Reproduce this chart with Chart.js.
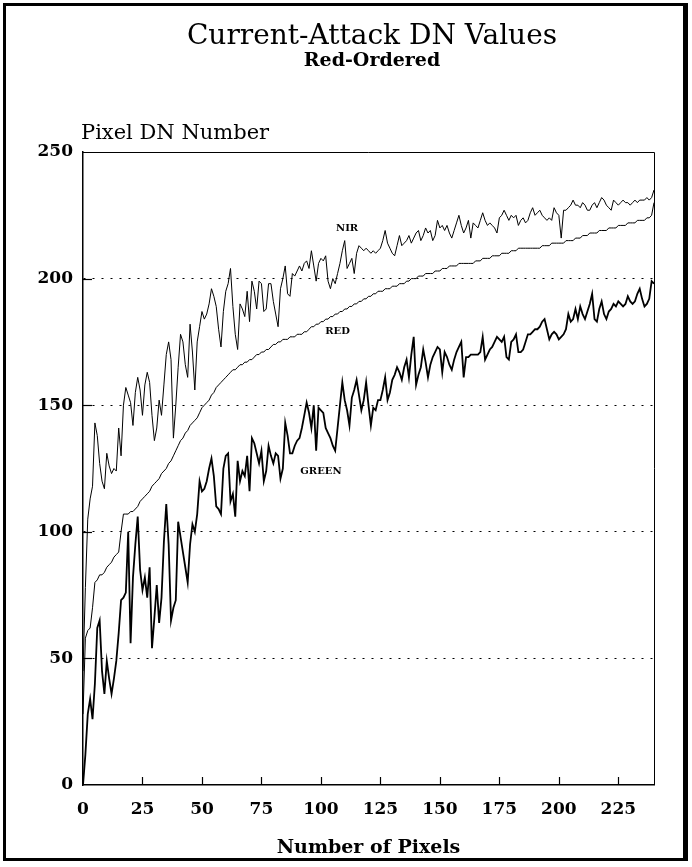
<!DOCTYPE html>
<html>
<head>
<meta charset="utf-8">
<script src="https://cdn.jsdelivr.net/npm/chart.js@4.4.1/dist/chart.umd.min.js"></script>
<style>
html,body{margin:0;padding:0;background:#fff;}
#wrap{position:relative;width:692px;height:867px;}
#frame{position:absolute;left:3px;top:3px;width:677px;height:852px;border:3px solid #000;border-right-width:5px;pointer-events:none;}
canvas{position:absolute;left:0;top:0;}
</style>
</head>
<body>
<div id="wrap"><canvas id="c" width="692" height="867"></canvas><div id="frame"></div></div>
<script>
// ---- data ----
const X_TICKS = [0,25,50,75,100,125,150,175,200,225];
const Y_TICKS = [0,50,100,150,200,250];
const SERIES_NAMES = ["NIR","RED","GREEN"];

const NIR = [45,78,105,113,118,143,138,127,120,117,131,126,123,125,124,141,130,150,157,154,
151,142,155,161,156,146,158,163,159,146,136,141,152,146,158,170,175,168,137,150,
165,178,175,166,161,182,171,156,175,181,187,184,186,190,196,193,189,180,173,187,
195,198,204,189,178,172,190,188,185,195,183,199,195,188,199,198,187,188,198,198,
191,186,181,196,200,205,194,193,202,201,203,205,203,206,207,204,211,205,199,206,
208,207,209,199,196,200,198,202,206,211,215,204,206,208,202,210,213,212,211,212,
211,210,211,210,211,212,215,219,214,212,210,209,213,217,213,214,215,217,214,216,
218,219,215,217,220,218,219,215,217,223,220,221,219,221,218,216,219,222,225,221,
218,220,223,216,222,221,220,223,226,223,221,222,221,220,218,224,225,227,225,223,
225,224,225,221,223,224,222,223,226,228,225,226,227,225,224,223,224,223,228,226,
225,216,227,227,228,229,231,229,229,228,230,229,227,227,229,230,228,230,232,231,
229,228,227,231,230,229,230,231,230,230,229,230,231,230,231,231,231,232,231,232,235];

const RED = [28,58,61,62,70,80,81,83,83,84,86,87,88,90,91,92,100,107,107,107,
108,108,109,110,112,113,114,115,116,118,119,120,121,123,124,125,127,128,130,132,
134,136,137,139,140,142,143,144,145,147,149,150,151,152,154,155,157,158,159,160,
161,162,163,164,164,165,166,166,167,167,168,168,169,170,170,171,171,172,172,173,
174,174,175,175,176,176,176,177,177,177,178,178,178,179,179,180,181,181,182,182,
183,183,184,184,185,185,186,186,187,187,188,188,189,189,190,190,191,191,192,192,
193,193,194,194,195,195,195,196,196,196,197,197,197,198,198,198,199,199,200,200,
200,201,201,201,202,202,202,202,203,203,203,204,204,204,205,205,205,205,206,206,
206,206,206,206,206,207,207,207,208,208,208,208,209,209,209,209,210,210,210,210,
211,211,211,212,212,212,212,212,212,212,212,212,212,213,213,213,213,214,214,214,
214,214,214,215,215,215,215,216,216,216,217,217,217,218,218,218,218,219,219,219,
219,220,220,220,220,221,221,221,221,222,222,222,222,223,223,223,223,224,224,225,230];

const GREEN = [0,12,28,34,26,40,62,65,45,36,49,42,36,42,49,60,73,74,76,100,
56,82,95,106,85,77,82,74,86,54,66,79,64,74,96,111,95,65,70,73,
104,98,92,86,80,95,103,100,107,120,116,117,120,125,129,122,110,109,107,125,
130,131,112,115,106,128,120,124,122,130,116,137,135,131,127,132,120,124,134,130,
127,131,130,121,125,143,138,131,131,134,136,137,141,146,151,147,141,150,132,149,
148,147,141,139,137,134,132,141,150,159,152,148,142,153,156,160,154,148,152,159,
150,142,149,148,152,152,156,161,152,155,160,162,165,163,160,165,168,161,170,177,
158,162,165,172,167,161,166,169,171,173,172,163,171,169,166,164,168,171,173,175,
161,169,169,170,170,170,170,171,177,168,170,172,173,175,177,176,175,177,169,168,
175,176,178,171,171,172,175,178,178,179,180,180,181,183,184,180,176,178,179,178,
176,177,178,180,186,183,184,188,184,189,186,184,187,190,194,184,183,188,191,186,
184,187,188,190,189,191,190,189,190,193,191,190,191,194,196,192,189,190,192,199,198];

// label anchors (data units) for the in-plot series names
const LABEL_X = [111, 107, 100];
const LABEL_Y = [220, 179, 124];

const X_MAX = 240;

const toPts = arr => arr.map((v, i) => ({x: i, y: v}));

const SERIF = "'DejaVu Serif', 'Liberation Serif', serif";

const decorPlugin = {
  id: 'decor',
  afterDraw(chart) {
    const {ctx, chartArea: a, scales} = chart;
    ctx.save();
    ctx.strokeStyle = '#000';
    ctx.lineWidth = 1;
    ctx.setLineDash([]);
    ctx.beginPath();
    ctx.moveTo(a.left, a.top + 0.5); ctx.lineTo(a.right + 0.5, a.top + 0.5);
    ctx.lineTo(a.right + 0.5, a.bottom);
    ctx.stroke();
    ctx.lineWidth = 1.2;
    X_TICKS.forEach(t => {
      if (t === 0) return;
      const px = Math.round(scales.x.getPixelForValue(t)) + 0.5;
      ctx.beginPath(); ctx.moveTo(px, a.bottom); ctx.lineTo(px, a.bottom - 8); ctx.stroke();
    });
    Y_TICKS.forEach(t => {
      if (t === 0 || t === 250) return;
      const py = Math.round(scales.y.getPixelForValue(t)) + 0.5;
      ctx.beginPath(); ctx.moveTo(a.left, py); ctx.lineTo(a.left + 9, py); ctx.stroke();
    });
    ctx.fillStyle = '#000';
    ctx.textAlign = 'center';
    ctx.textBaseline = 'middle';
    ctx.font = "28px " + SERIF;
    ctx.fillText('Current-Attack DN Values', 372, 37);
    ctx.font = "bold 19px " + SERIF;
    ctx.fillText('Red-Ordered', 372, 61);
    ctx.textAlign = 'left';
    ctx.font = "21px " + SERIF;
    ctx.fillText('Pixel DN Number', 81, 134);
    ctx.textAlign = 'center';
    ctx.font = "bold 10px " + SERIF;
    SERIES_NAMES.forEach((n, i) => {
      ctx.fillText(n, scales.x.getPixelForValue(LABEL_X[i]), scales.y.getPixelForValue(LABEL_Y[i]));
    });
    ctx.restore();
  }
};

new Chart(document.getElementById('c'), {
  type: 'line',
  data: {
    datasets: [
      {label: SERIES_NAMES[0], data: toPts(NIR), borderColor: '#000', borderWidth: 1, pointRadius: 0, tension: 0},
      {label: SERIES_NAMES[1], data: toPts(RED), borderColor: '#000', borderWidth: 1, pointRadius: 0, tension: 0},
      {label: SERIES_NAMES[2], data: toPts(GREEN), borderColor: '#000', borderWidth: 1.8, pointRadius: 0, tension: 0}
    ]
  },
  options: {
    responsive: false,
    animation: false,
    devicePixelRatio: 1,
    layout: {padding: {left: 0, right: 38, top: 152, bottom: 0}},
    plugins: {legend: {display: false}, title: {display: false}, tooltip: {enabled: false}},
    scales: {
      x: {
        type: 'linear', min: 0, max: X_MAX,
        afterBuildTicks: s => { s.ticks = X_TICKS.map(v => ({value: v})); },
        afterFit: s => { s.height = 82; },
        grid: {display: false, drawTicks: false},
        border: {display: true, color: '#000', width: 1.5},
        ticks: {color: '#000', padding: 14, maxRotation: 0, autoSkip: false,
                font: {family: SERIF, size: 17, weight: 'bold'}},
        title: {display: true, text: 'Number of Pixels', color: '#000',
                font: {family: SERIF, size: 19, weight: 'bold'}, padding: {top: 0, bottom: 8}}
      },
      y: {
        type: 'linear', min: 0, max: 250,
        afterBuildTicks: s => { s.ticks = Y_TICKS.map(v => ({value: v})); },
        afterFit: s => { s.width = 83; },
        grid: {drawTicks: false, lineWidth: 1,
               color: c => (c.tick && (c.tick.value === 0 || c.tick.value === 250)) ? 'rgba(0,0,0,0)' : '#000'},
        border: {display: true, color: '#000', width: 1.5, dash: [2, 7]},
        ticks: {color: '#000', padding: 10, font: {family: SERIF, size: 17, weight: 'bold'}}
      }
    }
  },
  plugins: [decorPlugin]
});
</script>
</body>
</html>
